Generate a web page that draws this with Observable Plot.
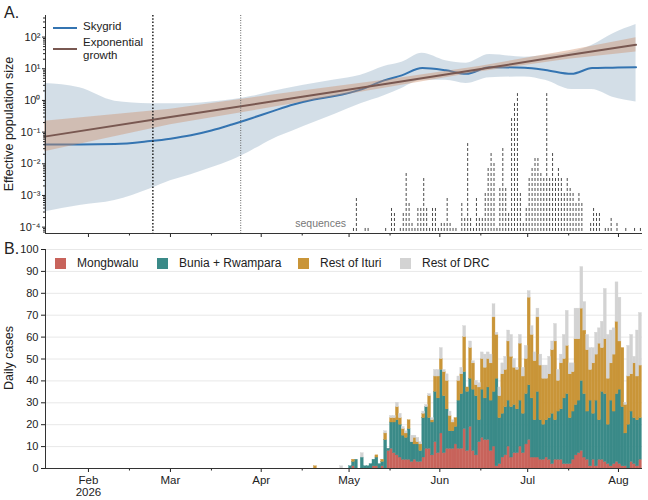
<!DOCTYPE html>
<html><head><meta charset="utf-8">
<script src="https://cdn.jsdelivr.net/npm/d3@7"></script>
<script src="https://cdn.jsdelivr.net/npm/@observablehq/plot@0.6"></script>
<style>
body{margin:0;background:#fff;font-family:"Liberation Sans",Arial,Helvetica,sans-serif;color:#222;}
#wrap{position:relative;width:648px;height:500px;overflow:hidden;}
#wrap svg{display:block;}
.abs{position:absolute;white-space:nowrap;line-height:1;}
.sw{position:absolute;width:11px;height:11px;}
</style></head><body><div id="wrap"></div>
<script>
// ---------- Panel A data ----------
const skyDates = ["2026-01-17","2026-01-29","2026-02-10","2026-02-22","2026-03-01","2026-03-08","2026-03-15","2026-03-22","2026-03-29","2026-04-05","2026-04-12","2026-04-19","2026-04-26","2026-05-05","2026-05-13","2026-05-19","2026-05-26","2026-06-03","2026-06-10","2026-06-18","2026-06-30","2026-07-07","2026-07-16","2026-07-23","2026-07-30","2026-08-07"];
const skyMedian = [0.041,0.041,0.042,0.052,0.062,0.079,0.112,0.174,0.28,0.46,0.74,1.07,1.37,2.2,4.3,6.2,10.5,8.9,6.9,11.2,10.7,9.2,6.9,10.5,10.8,11.2];
const skyLower = [3.0e-4,4.8e-4,6.9e-4,1.6e-3,2.9e-3,4.5e-3,7.5e-3,0.013,0.027,0.06,0.11,0.2,0.36,0.78,1.4,2.4,4.3,4.3,3.4,5.2,5.5,4.3,2.2,2.2,1.26,0.89];
const skyUpper = [3.4,2.5,0.95,0.79,0.78,0.8,0.9,1.05,1.35,1.9,2.6,3.4,4.4,6.2,11.8,16,31,18,15,28,23,26,33,55,126,250];

const expDates = ["2026-01-17","2026-03-01","2026-04-15","2026-05-15","2026-06-15","2026-07-15","2026-08-07"];
const expMedian = [0.072,0.30,1.3,3.5,9.8,27,57];
const expLower = [0.024,0.17,0.87,2.6,8.0,20,34];
const expUpper = [0.22,0.53,2.0,4.6,12.0,37,95];

const markerDates = ["2026-02-23","2026-03-25"];

// sequences per day, from 2026-05-01
const seqStart = "2026-05-01";
const seqCounts = [0,1,7,0,0,1,1,0,0,0, 0,0,1,0,5,4,0,1,4,12, 6,2,1,5,5,11,5,1,5,5, 1,2,2,7,2,1,1,0,6,3, 18,3,1,7,3,3,8,13,16,14, 1,9,17,9,4,23,26,28,8,2, 5,11,13,15,15,12,11,28,11,16, 11,13,11,8,11,9,8,6,8,6, 0,0,2,5,4,4,0,1,1,3, 0,2,0,0,1,0,0,1,0,1, 0];

// ---------- Panel B data (daily cases from 2026-04-19) ----------
const caseStart = "2026-04-19";
const mongbwalu = [0,0,0,0,0,0,0,0,0,0,0,0,
 0,1,0,0,0,0,0,0,1,1, 0,1,0,8,9,7,6,5,4,4, 4,3,4,3,3,5,9,9,6,12, 7,16,7,9,9,9,11,9,9,18, 8,19,8,6,12,14,13,13,8,10, 1,2,5,6,10,5,7,7,10,7, 11,13,5,5,5,4,4,5,4,2, 4,4,4,2,2,2,4,6,7,8, 5,4,1,4,1,4,4,3,2,1, 2,3,2,1,1,0,3,2,1,4];
const bunia = [0,0,0,0,0,0,0,0,0,0,0,0,
 1,2,4,0,5,1,1,2,3,4, 2,2,13,1,12,14,16,15,11,10, 14,9,7,8,5,18,19,14,15,23, 25,29,26,18,8,8,8,22,25,26, 27,22,28,27,10,22,19,24,23,25, 40,21,20,22,21,23,22,20,21,18, 23,25,27,17,30,18,16,17,19,23, 18,22,23,30,32,21,22,23,24,32, 29,22,30,21,30,18,31,31,18,30, 24,31,34,27,15,20,23,21,21,19];
const ituri = [1,0,0,0,0,0,0,0,0,0,0,0,
 0,1,0,0,0,0,0,0,0,1, 0,1,3,0,2,2,6,3,3,2, 4,0,3,1,3,2,0,10,1,7, 10,5,11,13,7,4,4,9,9,16, 2,14,12,5,15,14,14,13,17,34, 20,10,18,17,27,23,17,18,26,17, 16,40,29,27,34,25,21,19,20,29, 36,14,21,18,22,20,18,30,28,33, 29,28,14,23,21,35,20,25,21,17, 26,33,22,27,13,22,17,25,20,24];
const restDRC = [0,0,0,0,0,0,0,0,0,1,0,0,
 0,0,0,0,2,0,0,0,0,0, 0,0,1,0,1,1,2,2,1,1, 0,3,1,2,1,1,1,1,1,3, 3,5,1,3,2,1,0,2,3,5, 0,3,1,2,2,3,6,3,4,6, 1,4,5,6,5,10,4,1,4,4, 6,3,4,4,4,5,6,6,8,4, 8,5,4,11,16,5,4,14,14,19, 13,7,10,7,10,7,12,23,20,15, 12,18,20,0,1,14,18,3,21,24];

const categories = ["Mongbwalu","Bunia + Rwampara","Rest of Ituri","Rest of DRC"];
const catColors = ["#c8635b","#3a8a88","#c99538","#d3d3d3"];

const monthTicks = ["2026-02-01","2026-03-01","2026-04-01","2026-05-01","2026-06-01","2026-07-01","2026-08-01"];
const midTicks = ["2026-02-15","2026-03-15","2026-04-15","2026-05-15","2026-06-15","2026-07-15"];
const yearLabel = "2026";
const yPowers = [-4,-3,-2,-1,0,1,2];

// ---------- build ----------
const P = s => new Date(s + "T00:00:00Z");
const xDomain = [new Date(Date.UTC(2026,0,17,8)), new Date(Date.UTC(2026,7,9,5))];
const yDomainA = [6.3e-5, 480];
const font = '"Liberation Sans", Arial, Helvetica, sans-serif';

const sky = skyDates.map((d,i)=>({date:P(d), med:skyMedian[i], lo:skyLower[i], hi:skyUpper[i]}));
const expo = expDates.map((d,i)=>({date:P(d), med:expMedian[i], lo:expLower[i], hi:expUpper[i]}));
const seq0 = P(seqStart);
const seq = seqCounts.map((n,i)=>({date:d3.utcHour.offset(d3.utcDay.offset(seq0,i),12), n})).filter(d=>d.n>0);
const seqBase = 7.3e-5, seqStep = 0.1577, seqGap = 0.063;

const supMap = {"-":"\u207B","0":"\u2070","1":"\u00B9","2":"\u00B2","3":"\u00B3","4":"\u2074"};
const sup = v => { const p = Math.round(Math.log10(v)); return "10" + String(p).split("").map(c=>supMap[c]).join(""); };
const majorY = yPowers.map(p => Math.pow(10,p));
const minorY = [];
for (let k=-5;k<=2;k++) for (let m=2;m<=9;m++){const v=m*Math.pow(10,k); if(v>yDomainA[0]&&v<yDomainA[1]) minorY.push(v);}

const chartA = Plot.plot({
  width:648, height:245, marginLeft:45, marginRight:6, marginTop:15, marginBottom:12,
  style:{fontFamily:font, fontSize:"11px", color:"#222", background:"transparent", overflow:"visible"},
  x:{type:"utc", domain:xDomain},
  y:{type:"log", domain:yDomainA},
  marks:[
    Plot.areaY(sky,{x:"date", y1:"lo", y2:"hi", fill:"#97b1c5", fillOpacity:0.42, curve:"monotone-x"}),
    Plot.lineY(sky,{x:"date", y:"med", stroke:"#3474b1", strokeWidth:2, curve:"monotone-x"}),
    Plot.areaY(expo,{x:"date", y1:"lo", y2:"hi", fill:"#cc8c66", fillOpacity:0.4}),
    Plot.lineY(expo,{x:"date", y:"med", stroke:"#795851", strokeWidth:2}),
    Plot.ruleX([P(markerDates[0])],{stroke:"#111", strokeWidth:1.4, strokeDasharray:"1.5,1.8"}),
    Plot.ruleX([P(markerDates[1])],{stroke:"#666", strokeWidth:1, strokeDasharray:"1,1.5"}),
    Plot.ruleX(seq,{x:"date", y1:()=>seqBase, y2:d=>seqBase*Math.pow(10,d.n*seqStep-seqGap), stroke:"#4a4a4a", strokeWidth:1, strokeDasharray:"3,2"}),
    Plot.axisY({ticks:majorY, tickFormat:sup, tickSize:3, tickPadding:2, label:null, fontSize:11}),
    Plot.axisY({ticks:minorY, tickFormat:()=>"", tickSize:2, label:null}),
    Plot.axisX({ticks:monthTicks.map(P), tickSize:4, tickFormat:()=>"", label:null}),
    Plot.axisX({ticks:midTicks.map(P), tickSize:2.5, tickFormat:()=>"", label:null}),
    Plot.ruleX([xDomain[0]],{stroke:"#333"}),
    Plot.ruleY([yDomainA[0]],{stroke:"#333"})
  ]
});

const c0 = P(caseStart);
const cases = [];
[mongbwalu,bunia,ituri,restDRC].forEach((arr,ci)=>arr.forEach((v,i)=>{
  const d0 = d3.utcDay.offset(c0,i);
  cases.push({d0, d1:d3.utcDay.offset(d0,1), cat:categories[ci], v});
}));

const chartB = Plot.plot({
  width:648, height:255, marginLeft:45, marginRight:6, marginTop:4, marginBottom:32,
  style:{fontFamily:font, fontSize:"12px", color:"#222", background:"transparent", overflow:"visible"},
  x:{type:"utc", domain:xDomain},
  y:{domain:[0,100]},
  color:{domain:categories, range:catColors},
  marks:[
    Plot.gridY({ticks:d3.range(10,101,10), stroke:"#e8e8e8", strokeOpacity:1, strokeWidth:1}),
    Plot.rectY(cases,{x1:"d0", x2:"d1", y:"v", fill:"cat", stroke:"cat", strokeWidth:0.35, order:categories, inset:0}),
    Plot.axisY({ticks:d3.range(0,101,10), tickSize:4, tickPadding:3, label:null, fontSize:11}),
    Plot.axisX({ticks:monthTicks.map(P), tickSize:4, tickPadding:3, label:null, fontSize:11.5,
      tickFormat:d3.utcFormat("%b")}),
    Plot.axisX({ticks:[P(monthTicks[0])], tickSize:0, tickPadding:19.5, label:null, fontSize:11.5,
      tickFormat:()=>yearLabel}),
    Plot.axisX({ticks:midTicks.map(P), tickSize:2.5, tickFormat:()=>"", label:null}),
    Plot.ruleX([xDomain[0]],{stroke:"#333"}),
    Plot.ruleY([0],{stroke:"#333"})
  ]
});

const wrap = document.getElementById("wrap");
chartA.style.position="absolute"; chartA.style.left="0"; chartA.style.top="0";
chartB.style.position="absolute"; chartB.style.left="0"; chartB.style.top="245px";
wrap.appendChild(chartA); wrap.appendChild(chartB);

function txt(t, x, y, size, opts={}){
  const d=document.createElement("div"); d.className="abs"; d.textContent=t;
  d.style.left=x+"px"; d.style.top=y+"px"; d.style.fontSize=size+"px";
  if(opts.color) d.style.color=opts.color;
  if(opts.rot){ d.style.transform="translate(-50%,-50%) rotate(-90deg)"; }
  if(opts.right){ d.style.transform="translate(-100%,0)"; }
  wrap.appendChild(d); return d;
}
function swatch(x,y,c){const s=document.createElement("div");s.className="sw";s.style.left=x+"px";s.style.top=y+"px";s.style.background=c;wrap.appendChild(s);}
function lineSw(x,y,w,c){const s=document.createElement("div");s.style.position="absolute";s.style.left=x+"px";s.style.top=(y-1)+"px";s.style.width=w+"px";s.style.height="2px";s.style.background=c;wrap.appendChild(s);}

txt("A.", 4, 5, 16);
txt("B.", 4, 241, 16);
txt("Effective population size", 9, 124, 12.5, {rot:true});
txt("Daily cases", 9, 358, 12.5, {rot:true});
txt("sequences", 346, 218, 10.5, {color:"#777", right:true});

// legend A
lineSw(53, 28, 24, "#3474b1"); txt("Skygrid", 83, 21, 11.5);
lineSw(53, 49, 24, "#795851"); txt("Exponential", 83, 37, 11.5); txt("growth", 83, 50, 11.5);

// legend B
const legX = [55,157,298,400];
categories.forEach((c,i)=>{ swatch(legX[i], 258, catColors[i]); txt(c, legX[i]+22, 257, 12); });
</script></body></html>
